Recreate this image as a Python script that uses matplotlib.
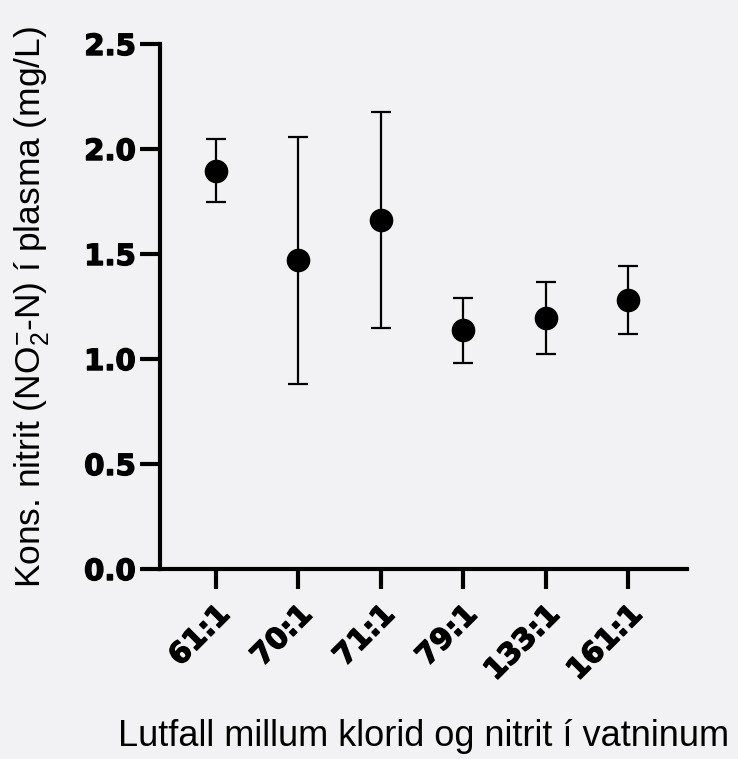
import matplotlib.pyplot as plt
import matplotlib.patheffects as pe

# data
ratios = ["61:1", "70:1", "71:1", "79:1", "133:1", "161:1"]
means = [1.897, 1.471, 1.662, 1.136, 1.195, 1.279]
errs = [0.149, 0.588, 0.516, 0.153, 0.173, 0.162]
yticks = [0.0, 0.5, 1.0, 1.5, 2.0, 2.5]

plt.rcParams['font.family'] = ['Liberation Sans', 'DejaVu Sans']
plt.rcParams['mathtext.fontset'] = 'custom'
plt.rcParams['mathtext.rm'] = 'Liberation Sans'
plt.rcParams['mathtext.default'] = 'regular'

fig = plt.figure(figsize=(7.38, 7.59), dpi=100, facecolor='#f2f2f4')
ax = fig.add_axes([0.2168, 0.2503, 0.7141, 0.6917])
ax.set_facecolor('none')

x = list(range(len(ratios)))
ax.errorbar(x, means, yerr=errs, fmt='o', color='black', markersize=16,
            elinewidth=1.6, capsize=7.5, capthick=1.6)

ax.set_ylim(0, 2.5)
ax.set_xlim(-0.673, 5.715)
ax.set_yticks(yticks)
ax.set_yticklabels([f'{v:.1f}' for v in yticks])
ax.set_xticks(x)
ax.set_xticklabels(ratios, rotation=45, ha='right', rotation_mode='anchor')

# tick labels are a heavy, wide face in the original
heavy = [pe.withStroke(linewidth=1.0, foreground='black')]
for lab in ax.get_xticklabels() + ax.get_yticklabels():
    lab.set_family('DejaVu Sans')
    lab.set_fontweight('bold')
    lab.set_fontsize(21)
    lab.set_path_effects(heavy)

ax.spines['top'].set_visible(False)
ax.spines['right'].set_visible(False)
ax.spines['left'].set_linewidth(3)
ax.spines['bottom'].set_linewidth(3)
ax.tick_params(axis='both', width=3, length=14.5, color='black')
ax.tick_params(axis='y', pad=3)
ax.tick_params(axis='x', pad=8)

ax.set_ylabel('Kons. nitrit (NO$_2^{-}$-N) í plasma (mg/L)', fontsize=25.5)
ax.yaxis.set_label_coords(-0.205, 0.5)
ax.set_xlabel('Lutfall millum klorid og nitrit í vatninum', fontsize=26)
ax.xaxis.set_label_coords(0.5, -0.285)

fig.savefig('out.png', dpi=100, facecolor=fig.get_facecolor())
